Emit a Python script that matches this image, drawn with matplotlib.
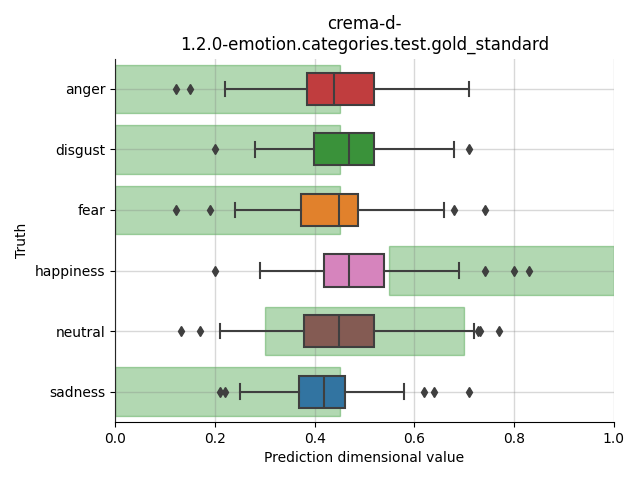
import numpy as np
import matplotlib
matplotlib.use("Agg")
from matplotlib import pyplot as plt

categories = ["anger", "disgust", "fear", "happiness", "neutral", "sadness"]
colors = ["#c03d3e", "#3a923a", "#e1812c", "#d684bd", "#845b53", "#3274a1"]

# box stats: whisker low, q1, median, q3, whisker high
whislo = [0.220, 0.281, 0.240, 0.291, 0.210, 0.250]
q1 = [0.384, 0.398, 0.373, 0.418, 0.378, 0.369]
med = [0.438, 0.469, 0.449, 0.469, 0.449, 0.418]
q3 = [0.520, 0.520, 0.488, 0.539, 0.520, 0.460]
whishi = [0.709, 0.679, 0.659, 0.689, 0.719, 0.579]
fliers = [
    [0.122, 0.151],
    [0.201, 0.709],
    [0.122, 0.191, 0.680, 0.741],
    [0.201, 0.741, 0.800, 0.830],
    [0.131, 0.171, 0.728, 0.731, 0.770],
    [0.211, 0.221, 0.620, 0.640, 0.709],
]

# expected (gold standard) ranges per category
band_lo = [0.0, 0.0, 0.0, 0.55, 0.3, 0.0]
band_hi = [0.45, 0.45, 0.45, 1.0, 0.7, 0.45]

fig, ax = plt.subplots(figsize=(6.4, 4.8), dpi=100)
fig.subplots_adjust(left=0.18, right=0.959, top=0.878, bottom=0.121)

ypos = np.arange(len(categories))
ax.barh(ypos, np.array(band_hi) - np.array(band_lo), left=band_lo, height=0.8,
        color="green", alpha=0.3, edgecolor="green", linewidth=1, zorder=1)

stats = []
for i, c in enumerate(categories):
    stats.append(dict(label=c, whislo=whislo[i], q1=q1[i], med=med[i], q3=q3[i],
                      whishi=whishi[i], fliers=fliers[i]))

lc = "#3f3f3f"
bp = ax.bxp(stats, positions=ypos, vert=False, widths=0.53, patch_artist=True,
            boxprops=dict(edgecolor=lc, linewidth=1.5),
            medianprops=dict(color=lc, linewidth=1.5),
            whiskerprops=dict(color=lc, linewidth=1.5),
            capprops=dict(color=lc, linewidth=1.5),
            flierprops=dict(marker="d", markerfacecolor=lc, markeredgecolor=lc,
                            markersize=5),
            capwidths=0.24, zorder=3)
for patch, col in zip(bp["boxes"], colors):
    patch.set_facecolor(col)

ax.set_ylim(len(categories) - 0.5, -0.5)
ax.set_yticks(ypos)
ax.set_yticklabels(categories)
ax.set_xlim(0, 1)
ax.set_axisbelow(False)
ax.grid(True, color="gray", alpha=0.3, linewidth=1)
for gl in ax.get_xgridlines() + ax.get_ygridlines():
    gl.set_zorder(4)
ax.spines["top"].set_visible(False)
ax.spines["right"].set_visible(False)
ax.set_xlabel("Prediction dimensional value")
ax.set_ylabel("Truth")
ax.set_title("crema-d-\n1.2.0-emotion.categories.test.gold_standard")

plt.savefig("out.png")
